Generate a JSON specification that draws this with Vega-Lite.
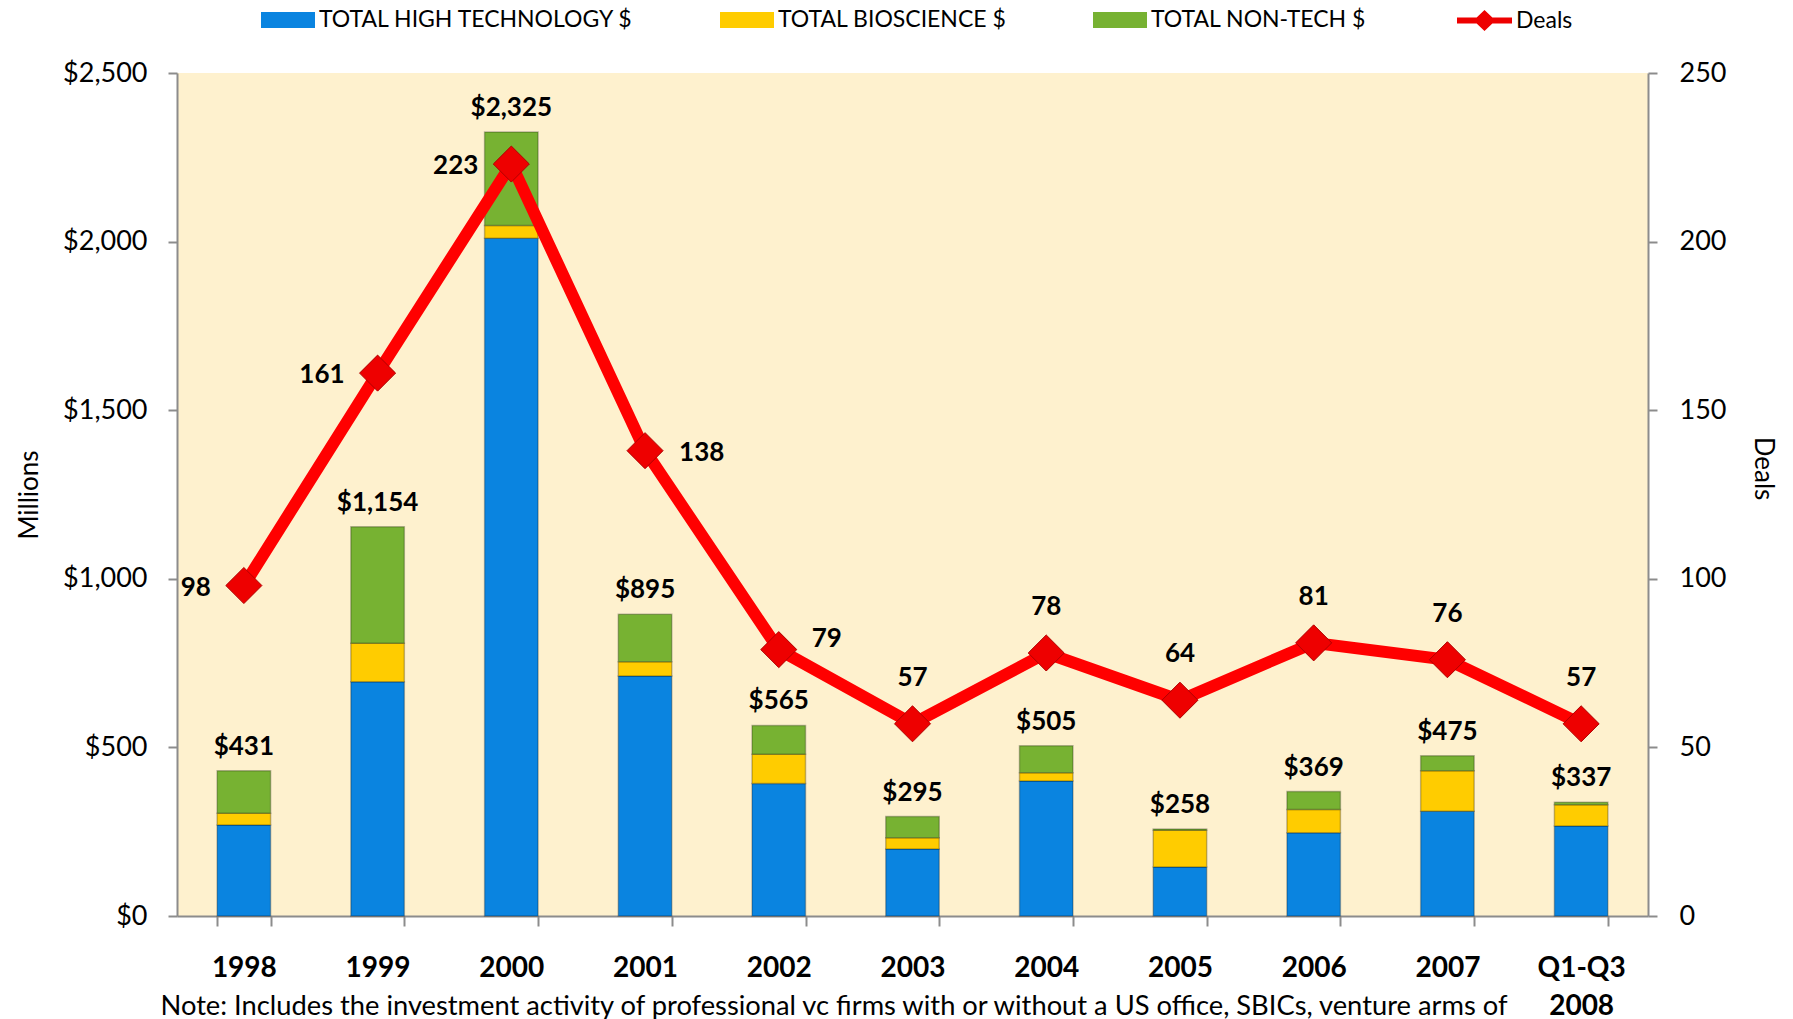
{
  "$schema": "https://vega.github.io/schema/vega-lite/v6.json",
  "width": 1471,
  "height": 843,
  "autosize": {"type": "none"},
  "padding": {"left": 177, "top": 73, "right": 145, "bottom": 103},
  "background": "white",
  "config": {
    "font": "Lato",
    "view": {"fill": "#FEF1CE", "stroke": null},
    "axis": {"domainColor": "#8c8c8c", "tickColor": "#8c8c8c", "grid": false, "labelColor": "black", "titleColor": "black", "domainWidth": 2, "tickWidth": 2}
  },
  "data": {
    "values": [
      {"year": "1998", "TOTAL HIGH TECHNOLOGY $": 270, "TOTAL BIOSCIENCE $": 35, "TOTAL NON-TECH $": 126, "total": 431, "deals": 98},
      {"year": "1999", "TOTAL HIGH TECHNOLOGY $": 695, "TOTAL BIOSCIENCE $": 114, "TOTAL NON-TECH $": 345, "total": 1154, "deals": 161},
      {"year": "2000", "TOTAL HIGH TECHNOLOGY $": 2010, "TOTAL BIOSCIENCE $": 38, "TOTAL NON-TECH $": 277, "total": 2325, "deals": 223},
      {"year": "2001", "TOTAL HIGH TECHNOLOGY $": 712, "TOTAL BIOSCIENCE $": 42, "TOTAL NON-TECH $": 141, "total": 895, "deals": 138},
      {"year": "2002", "TOTAL HIGH TECHNOLOGY $": 393, "TOTAL BIOSCIENCE $": 87, "TOTAL NON-TECH $": 85, "total": 565, "deals": 79},
      {"year": "2003", "TOTAL HIGH TECHNOLOGY $": 199, "TOTAL BIOSCIENCE $": 33, "TOTAL NON-TECH $": 63, "total": 295, "deals": 57},
      {"year": "2004", "TOTAL HIGH TECHNOLOGY $": 400, "TOTAL BIOSCIENCE $": 25, "TOTAL NON-TECH $": 80, "total": 505, "deals": 78},
      {"year": "2005", "TOTAL HIGH TECHNOLOGY $": 145, "TOTAL BIOSCIENCE $": 109, "TOTAL NON-TECH $": 4, "total": 258, "deals": 64},
      {"year": "2006", "TOTAL HIGH TECHNOLOGY $": 247, "TOTAL BIOSCIENCE $": 69, "TOTAL NON-TECH $": 53, "total": 369, "deals": 81},
      {"year": "2007", "TOTAL HIGH TECHNOLOGY $": 311, "TOTAL BIOSCIENCE $": 120, "TOTAL NON-TECH $": 44, "total": 475, "deals": 76},
      {"year": "Q1-Q3 2008", "TOTAL HIGH TECHNOLOGY $": 267, "TOTAL BIOSCIENCE $": 63, "TOTAL NON-TECH $": 7, "total": 337, "deals": 57}
    ]
  },
  "encoding": {
    "x": {
      "field": "year",
      "type": "nominal",
      "sort": null,
      "scale": {"paddingInner": 0.6, "paddingOuter": 0.3},
      "axis": {
        "title": "Note:  Includes the investment activity of professional vc firms with or without a US office, SBICs, venture arms of",
        "titleFontSize": 27.3,
        "titleFontWeight": "normal",
        "titleAnchor": "start",
        "titleAlign": "left",
        "titleX": -17,
        "titleY": 90,
        "titleBaseline": "middle",
        "labelAngle": 0,
        "labelFontWeight": "bold",
        "labelFontSize": 28,
        "labelPadding": 28,
        "labelLineHeight": 38,
        "labelExpr": "split(datum.label, ' ')",
        "tickBand": "extent",
        "tickSize": 10
      }
    }
  },
  "layer": [
    {
      "layer": [
        {
          "transform": [
            {"fold": ["TOTAL HIGH TECHNOLOGY $", "TOTAL BIOSCIENCE $", "TOTAL NON-TECH $"], "as": ["series", "amount"]},
            {"window": [{"op": "row_number", "as": "k"}]}
          ],
          "mark": {"type": "bar", "stroke": "#000000", "strokeOpacity": 0.25, "strokeWidth": 1.5},
          "encoding": {
            "y": {
              "field": "amount",
              "type": "quantitative",
              "stack": "zero",
              "scale": {"domain": [0, 2500]},
              "axis": {
                "title": "Millions",
                "titleFontSize": 26,
                "titleFontWeight": "normal",
                "titlePadding": 20,
                "labelFontSize": 27,
                "format": "$,.0f",
                "values": [0, 500, 1000, 1500, 2000, 2500],
                "tickSize": 9,
                "labelPadding": 21
              }
            },
            "order": {"field": "k", "type": "quantitative", "sort": "ascending"},
            "color": {
              "field": "series",
              "type": "nominal",
              "scale": {
                "domain": ["TOTAL HIGH TECHNOLOGY $", "TOTAL BIOSCIENCE $", "TOTAL NON-TECH $"],
                "range": ["#0A84E0", "#FFCC00", "#77B232"]
              },
              "legend": {
                "orient": "none",
                "legendX": 84,
                "legendY": -80,
                "direction": "horizontal",
                "title": null,
                "labelFontSize": 23,
                "labelFont": "Lato",
                "labelColor": "black",
                "labelLimit": 0,
                "columnPadding": 86,
                "labelOffset": 4,
                "symbolType": "M-1,-0.3L1,-0.3L1,0.3L-1,0.3Z",
                "symbolSize": 2916,
                "symbolStrokeWidth": 0,
                "symbolOpacity": 1
              }
            }
          }
        },
        {
          "mark": {"type": "text", "fontWeight": "bold", "fontSize": 26, "baseline": "middle", "dy": -24, "color": "black"},
          "encoding": {
            "y": {
              "field": "total",
              "type": "quantitative",
              "scale": {"domain": [0, 2500]},
              "axis": {
                "title": "Millions",
                "titleFontSize": 26,
                "titleFontWeight": "normal",
                "titlePadding": 20,
                "labelFontSize": 27,
                "format": "$,.0f",
                "values": [0, 500, 1000, 1500, 2000, 2500],
                "tickSize": 9,
                "labelPadding": 21
              }
            },
            "text": {"field": "total", "type": "quantitative", "format": "$,.0f"}
          }
        }
      ]
    },
    {
      "encoding": {
        "y": {
          "field": "deals",
          "type": "quantitative",
          "scale": {"domain": [0, 250]},
          "axis": {
            "orient": "right",
            "title": "Deals",
            "titleFontSize": 26,
            "titleFontWeight": "normal",
            "titlePadding": 24,
            "titleY": 395,
            "labelFontSize": 27,
            "values": [0, 50, 100, 150, 200, 250],
            "tickSize": 9,
            "labelPadding": 22
          }
        }
      },
      "layer": [
        {
          "mark": {"type": "line", "strokeWidth": 12, "strokeJoin": "miter", "color": "#FF0000"}
        },
        {
          "mark": {"type": "point", "shape": "diamond", "size": 1300, "filled": true, "stroke": "#B00000", "strokeWidth": 1, "opacity": 1},
          "encoding": {
            "fill": {
              "datum": "Deals",
              "type": "nominal",
              "scale": {"domain": ["Deals"], "range": ["#EE0000"]},
              "legend": {
                "orient": "none",
                "legendX": 1280,
                "legendY": -80,
                "title": null,
                "labelFontSize": 23,
                "labelFont": "Lato",
                "labelColor": "black",
                "labelOffset": 4,
                "symbolType": "M-1,-0.11L1,-0.11L1,0.11L-1,0.11Z M0,-0.38L0.4,0L0,0.38L-0.4,0Z",
                "symbolSize": 3025,
                "symbolStrokeWidth": 0,
                "symbolOpacity": 1
              }
            }
          }
        },
        {
          "transform": [{"filter": {"field": "year", "oneOf": ["1998", "1999", "2000"]}}],
          "mark": {"type": "text", "fontWeight": "bold", "fontSize": 26, "align": "right", "baseline": "middle", "dx": -33, "dy": 2, "color": "black"},
          "encoding": {"text": {"field": "deals", "type": "quantitative"}}
        },
        {
          "transform": [{"filter": {"field": "year", "oneOf": ["2001"]}}],
          "mark": {"type": "text", "fontWeight": "bold", "fontSize": 26, "align": "left", "baseline": "middle", "dx": 34, "dy": 2, "color": "black"},
          "encoding": {"text": {"field": "deals", "type": "quantitative"}}
        },
        {
          "transform": [{"filter": {"field": "year", "oneOf": ["2002"]}}],
          "mark": {"type": "text", "fontWeight": "bold", "fontSize": 26, "align": "left", "baseline": "middle", "dx": 33, "dy": -11, "color": "black"},
          "encoding": {"text": {"field": "deals", "type": "quantitative"}}
        },
        {
          "transform": [{"filter": {"field": "year", "oneOf": ["2003", "2004", "2005", "2006", "2007", "Q1-Q3 2008"]}}],
          "mark": {"type": "text", "fontWeight": "bold", "fontSize": 26, "align": "center", "baseline": "middle", "dy": -46, "color": "black"},
          "encoding": {"text": {"field": "deals", "type": "quantitative"}}
        }
      ]
    }
  ],
  "resolve": {"scale": {"y": "independent"}}
}
